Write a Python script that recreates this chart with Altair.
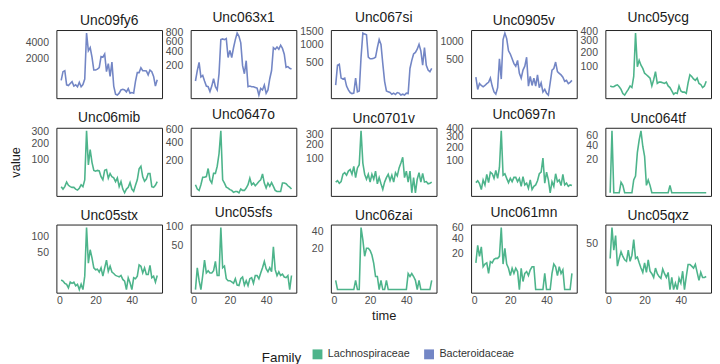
import math
import altair as alt
import pandas as pd

# ---- data ----
time = list(range(1, 55))

unc09fy6 = [440, 934, 1000, 256, 234, 304, 383, 213, 256, 193,
            355, 193, 268, 500, 5353, 2877, 3270, 2166, 1046, 1046,
            1116, 1238, 2232, 2166, 2509, 934, 1555, 637, 1699, 213,
            33, 22, 46, 107, 122, 107, 67, 138, 46, 56,
            46, 397, 870, 870, 1213, 1000, 1000, 978, 730, 1046,
            934, 637, 213, 470]
unc063x1 = [62, 150, 245, 91, 104, 62, 33, 30, 12, 33,
            78, 30, 17, 119, 633, 647, 633, 654, 313, 428,
            313, 474, 633, 777, 703, 567, 204, 119, 267, 30,
            33, 30, 30, 27, 24, 4, 23, 17, 38, 7.5,
            17, 78, 150, 474, 445, 486, 445, 522, 462, 363,
            185, 193, 174, 167]
unc067si = [112, 442, 464, 204, 190, 204, 102, 65, 45, 38,
            41, 204, 50, 57, 637, 1434, 1396, 1371, 637, 595,
            595, 612, 637, 918, 1190, 1022, 478, 159, 57, 50,
            45, 34, 41, 32, 45, 41, 29, 34, 29, 41,
            38, 374, 555, 725, 771, 867, 1022, 818, 442, 918,
            442, 342, 312, 374]
unc0905v = [180, 52, 103, 85, 73, 85, 103, 117, 167, 79,
            35, 23, 65, 514, 155, 1051, 1273, 1083, 715, 631,
            514, 410, 359, 478, 236, 167, 289, 359, 552, 79,
            189, 85, 167, 79, 212, 65, 110, 35, 52, 28,
            19, 110, 289, 317, 443, 262, 236, 212, 180, 128,
            139, 103, 117, 139]
unc05ycg = [21, 19, 19, 22, 24, 19, 13, 6, 4, 8,
            13, 21, 17, 53, 382, 100, 140, 109, 91, 67,
            60, 53, 46, 21, 40, 75, 28, 32, 32, 30,
            28, 32, 21, 17, 10, 5, 7, 6, 21, 10,
            8, 8, 6, 30, 60, 53, 43, 38, 46, 28,
            25, 17, 21, 35]
unc06mib = [7, 4, 7, 15, 9, 7, 6, 6, 4, 3,
            5, 10, 7, 20, 309, 72, 158, 84, 49, 46,
            49, 47, 28, 20, 49, 52, 24, 38, 28, 25,
            16, 25, 7, 16, 4, 1, 4, 6, 14, 4,
            2, 9, 20, 55, 66, 28, 17, 22, 38, 38,
            7, 6, 9, 16]
unc0647o = [36, 21, 17, 36, 72, 72, 76, 130, 58, 43,
            96, 96, 148, 266, 573, 58, 43, 27, 24, 19,
            17, 12, 14, 14, 11, 21, 17, 17, 24, 36,
            67, 36, 43, 32, 40, 50, 58, 92, 43, 24,
            43, 30, 45, 30, 17, 14, 14, 14, 43, 43,
            40, 32, 27, 21]
unc0701v = [10, 13, 8, 11, 30, 35, 27, 41, 47, 30,
            61, 20, 54, 69, 334, 77, 30, 16, 30, 10,
            30, 16, 41, 7, 20, 7, 1, 10, 20, 30,
            13, 27, 10, 35, 25, 54, 77, 110, 20, 41,
            10, 41, 0, 20, 0, 16, 35, 10, 33, 10,
            11, 7, 8, 10]
unc0697n = [10, 14, 8, 1, 16, 6, 33, 10, 41, 35,
            20, 48, 20, 62, 370, 30, 35, 20, 10, 20,
            12, 23, 23, 12, 20, 4, 25, 6, 9, 2,
            16, 1, 4, 6, 14, 35, 41, 116, 9, 41,
            16, 0, 12, 4, 35, 12, 16, 5, 33, 6,
            9, 4, 6, 5]
unc064tf = [0, 69, 0, 0, 0, 0, 2, 1, 0, 0,
            0, 0, 0, 3, 5, 29, 50, 69, 39, 24,
            1, 3, 1, 0, 0, 0, 0, 0, 0, 0,
            0, 0, 0, 1, 0, 0, 0, 0, 0, 0,
            0, 0, 0, 0, 0, 0, 0, 0, 0, 0,
            0, 0, 0, 0]
unc05stx = [3.3, 2.6, 1.4, 1, 0.1, 2, 1.4, 2, 0.5, 1,
            0, 1, 0, 6.5, 138, 25, 57, 36, 17, 14,
            15, 11, 17, 6.5, 17, 31, 12, 19.5, 11, 9.3,
            7.2, 6.5, 5.9, 7.2, 3.7, 2.6, 0, 5, 1.7, 0,
            5, 4.2, 6.5, 22, 19.5, 10, 17, 8.2, 8.2, 21,
            5, 6.5, 2, 7.2]
unc05sfs = [0, 12, 2, 0, 5, 22, 7, 9, 7, 7,
            9, 20, 5, 5, 97, 12, 14, 3, 2, 2,
            1.5, 1, 3, 0.5, 0.4, 3, 4, 0.5, 2, 0.4,
            3, 3.6, 1, 5, 5, 3, 7, 12, 20, 11,
            8, 12, 8, 46, 10, 5, 8, 5, 6, 4,
            3.6, 5, 0, 5]
unc06zai = [1, 0, 0, 0, 0, 0, 0, 0, 0, 0,
            0, 1, 0, 0, 45, 29, 13, 20, 20, 18,
            14, 8, 2, 2, 0, 1, 0, 0, 1, 0,
            0, 0, 0, 0, 0, 0, 0, 0, 0, 0,
            3, 2, 3, 2, 1, 0, 1, 0, 0, 0,
            0, 0, 0, 1]
unc061mn = [11, 30, 17, 28, 8, 10, 11, 4, 12, 11,
            14, 15, 15, 17, 59, 10, 26, 10, 7, 3,
            7, 4, 7, 5, 0, 7, 1, 4, 5, 3,
            6, 8, 8, 0, 0, 0, 0, 0, 4, 0,
            0, 0, 4, 10, 8, 3, 8, 4, 6, 0,
            0, 0, 0, 4]
unc05qxz = [23, 91, 37, 69, 13, 23, 34, 26, 21, 19,
            37, 19, 28, 59, 23, 25, 17, 11, 7, 17,
            7, 21, 8, 6, 3.5, 11, 6, 4, 3, 10,
            6, 3.5, 7, 0, 3.5, 0, 1, 0, 3, 1,
            8, 0, 4, 15, 15, 13, 11, 15, 7, 2,
            7, 3.5, 3.5, 4]

panel_names = ["Unc09fy6", "Unc063x1", "Unc067si", "Unc0905v", "Unc05ycg",
               "Unc06mib", "Unc0647o", "Unc0701v", "Unc0697n", "Unc064tf",
               "Unc05stx", "Unc05sfs", "Unc06zai", "Unc061mn", "Unc05qxz"]
panel_values = [unc09fy6, unc063x1, unc067si, unc0905v, unc05ycg,
                unc06mib, unc0647o, unc0701v, unc0697n, unc064tf,
                unc05stx, unc05sfs, unc06zai, unc061mn, unc05qxz]
panel_family = ["Bacteroidaceae"] * 4 + ["Lachnospiraceae"] * 11
panel_ticks = [[2000, 4000], [200, 400, 600, 800], [500, 1000, 1500], [500, 1000],
               [100, 200, 300, 400], [100, 200, 300], [200, 400, 600], [100, 200, 300],
               [100, 200, 300, 400], [20, 40, 60], [50, 100], [50, 100], [20, 40],
               [20, 40, 60], [50]]
x_ticks = [0, 20, 40]

family_order = ["Lachnospiraceae", "Bacteroidaceae"]
family_colors = ["#4DB48B", "#7386C5"]

FONT = "Liberation Sans"


def sqrt_domain(vals):
    lo, hi = math.sqrt(min(vals)), math.sqrt(max(vals))
    pad = 0.05 * (hi - lo)
    a, b = lo - pad, hi + pad
    return [math.copysign(a * a, a), b * b]


t_lo, t_hi = min(time), max(time)
t_pad = 0.05 * (t_hi - t_lo)
x_domain = [t_lo - t_pad, t_hi + t_pad]

charts = []
for i, (name, vals, fam, ticks) in enumerate(zip(panel_names, panel_values,
                                                   panel_family, panel_ticks)):
    row, col = divmod(i, 5)
    df = pd.DataFrame({"time": time, "value": vals, "Family": fam})
    x_scale = alt.Scale(domain=x_domain, nice=False, zero=False)
    if row == 2:
        x_enc = alt.X("time:Q", scale=x_scale,
                      title="time" if col == 2 else None,
                      axis=alt.Axis(values=x_ticks, format="d", ticks=False,
                                    domain=False, grid=False, labelPadding=3,
                                    labelFlush=False, labelOverlap=False,
                                    titlePadding=4))
    else:
        x_enc = alt.X("time:Q", scale=x_scale, axis=None)
    y_enc = alt.Y("value:Q",
                  scale=alt.Scale(type="sqrt", domain=sqrt_domain(vals),
                                  nice=False, zero=False),
                  title="value" if (row == 1 and col == 0) else None,
                  axis=alt.Axis(values=ticks, format="d", ticks=False, domain=False,
                                grid=False, labelPadding=8, labelFlush=False,
                                labelOverlap=False, titlePadding=9))
    c = (
        alt.Chart(df, title=alt.TitleParams(text=name, fontSize=14, font=FONT,
                                            fontWeight="normal", color="#1a1a1a",
                                            offset=2, anchor="middle",
                                            frame="group"))
        .mark_line(strokeWidth=1.6)
        .encode(
            x=x_enc,
            y=y_enc,
            color=alt.Color("Family:N",
                            scale=alt.Scale(domain=family_order, range=family_colors),
                            legend=alt.Legend(orient="none", legendX=208, legendY=323,
                                              direction="horizontal",
                                              titleOrient="left",
                                              symbolType="square", symbolSize=25,
                                              symbolStrokeWidth=5,
                                              labelFontSize=10.9, titleFontSize=13.6,
                                              labelFont=FONT, titleFont=FONT,
                                              titleFontWeight="normal",
                                              titleColor="#1a1a1a",
                                              labelColor="#333333",
                                              titlePadding=10, labelOffset=5,
                                              columnPadding=6)),
        )
        .properties(width=107, height=69)
    )
    charts.append(c)

chart = (
    alt.concat(*charts, columns=5, spacing={"row": 8, "column": 1},
               align="each", bounds="full")
    .resolve_scale(x="independent", y="independent", color="shared")
    .properties(padding={"top": -1, "left": 0, "right": 0, "bottom": 0})
    .configure_view(stroke="#222222", strokeWidth=1)
    .configure_title(font=FONT, fontWeight="normal", fontSize=14, color="#1a1a1a")
    .configure_axis(labelFont=FONT, titleFont=FONT, labelFontSize=10.6,
                    labelColor="#4d4d4d", titleFontSize=13, titleColor="#1a1a1a",
                    titleFontWeight="normal")
)
chart.config.style = {"group-title": {"fontWeight": "normal", "fontSize": 14,
                                      "font": FONT}}

chart.save("out.html", embed_options={"renderer": "svg", "actions": False})
